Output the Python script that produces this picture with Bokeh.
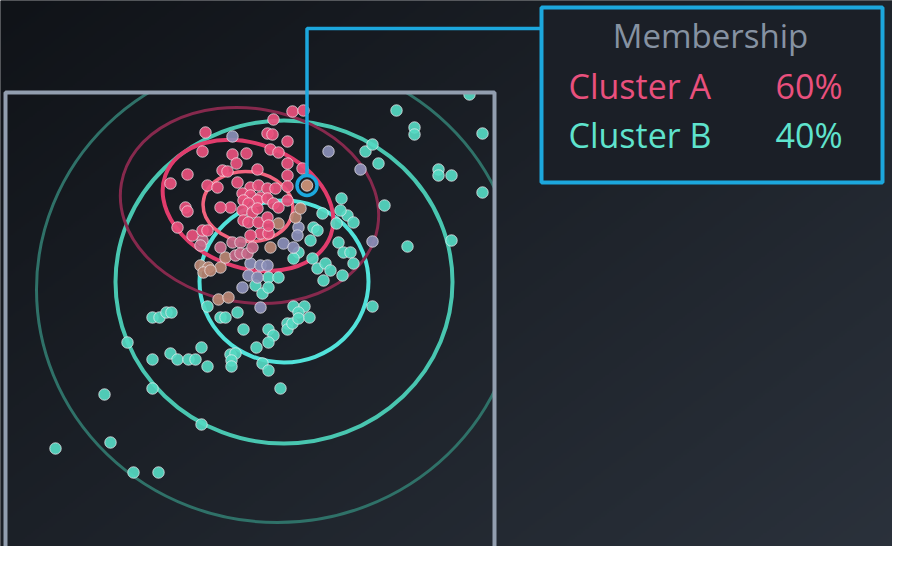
import numpy as np

from bokeh.core.properties import value
from bokeh.embed import file_html
from bokeh.models import Range1d
from bokeh.plotting import figure
from bokeh.resources import INLINE

# feature space: the framed square spans 0..489 on both axes

# cluster A (pink) points
a_x = [287, 298, 268, 200, 262, 267, 282, 197, 265, 273, 227, 241, 282, 231, 217, 222,
       252, 282, 182, 165, 202, 212, 232, 245, 253, 262, 270, 282, 237, 245, 255, 238,
       252, 262, 225, 215, 180, 282, 297, 182, 243, 237, 247, 252, 172, 187, 197, 202,
       238, 243, 268, 273, 255, 263, 245, 253, 262, 263]
a_y = [470, 471, 462, 449, 448, 447, 440, 430, 432, 429, 427, 428, 418, 418, 411, 410,
       412, 406, 407, 398, 396, 394, 399, 394, 396, 393, 393, 395, 388, 386, 384, 381,
       381, 383, 374, 374, 374, 381, 413, 370, 378, 371, 369, 373, 354, 346, 351, 351,
       361, 359, 378, 374, 348, 348, 346, 359, 364, 356]

# points of A near the overlap (muted pink)
am_x = [197, 195, 215, 227, 235, 230, 235, 242, 247]
am_y = [341, 336, 334, 339, 339, 326, 328, 328, 334]

# mixed points, mostly A (warm tint)
ab_x = [273, 290, 295, 213, 223, 215, 195, 203, 198, 205, 265, 220]
ab_y = [358, 364, 373, 282, 284, 314, 316, 314, 309, 311, 334, 324]

# mixed points, mostly B (cool tint)
ba_x = [227, 323, 355, 367, 255, 237, 293, 292, 245, 255, 262, 243, 252, 278, 288]
ba_y = [445, 430, 412, 340, 274, 294, 354, 346, 318, 316, 316, 306, 304, 338, 334]

# cluster B (teal) points
b_x = [391, 409, 409, 477, 464, 360, 367, 373, 433, 433, 446, 477, 336, 379, 342, 348,
       331, 317, 308, 305, 333, 338, 345, 402, 446, 312, 335, 293, 288, 307, 312, 320,
       325, 318, 337, 348, 263, 273, 250, 257, 263, 367, 202, 215, 220, 232, 238, 263,
       268, 263, 282, 282, 287, 288, 299, 293, 293, 304, 251, 257, 263, 225, 230, 226,
       226, 275, 196, 147, 154, 161, 166, 122, 147, 165, 172, 183, 190, 196, 202, 147,
       99, 105, 50, 128, 153]
b_y = [471, 454, 447, 448, 487, 430, 437, 418, 412, 406, 406, 389, 383, 376, 366, 359,
       358, 368, 354, 341, 339, 329, 329, 335, 341, 351, 371, 329, 323, 323, 313, 318,
       311, 301, 306, 318, 304, 304, 296, 288, 294, 275, 275, 264, 264, 269, 252, 252,
       246, 239, 258, 252, 258, 275, 275, 269, 263, 264, 234, 218, 211, 227, 228, 221,
       215, 193, 157, 264, 264, 269, 269, 239, 222, 228, 222, 222, 222, 234, 215, 193,
       187, 139, 133, 109, 109]

# density contours (ellipses) of the two clusters
a_cx = [244, 242.5, 242.5]
a_cy = [376, 376, 375]
a_w = [260, 176, 90]
a_h = [194, 124, 70]
a_angle = [-0.17, -0.35, -0.1]

b_cx = [272, 278.5, 278.5]
b_cy = [292, 299.5, 300]
b_w = [482, 337, 169]
b_h = [466, 323, 162]

# highlighted point and its memberships
hl_x, hl_y = 301.5, 396
clusters = ["Cluster A", "Cluster B"]
shares = [60, 40]

PINK = "#e9507d"
TEAL = "#55d9c2"
BLUE = "#1ca7dd"
FONT = value("Open Sans")

p = figure(width=892, height=546, x_range=Range1d(-5, 887), y_range=Range1d(35, 581),
           x_axis_location=None, y_axis_location=None,
           output_backend="svg", toolbar_location=None, min_border=0)
p.grid.visible = False
p.outline_line_color = None
p.background_fill_color = "#15181e"
p.border_fill_color = "#15181e"

# dark diagonal gradient background
W, H = 454, 281
gx = (np.arange(W) + 0.5) * 908 / W
gy = 562 - (np.arange(H) + 0.5) * 562 / H
X, Y = np.meshgrid(gx, gy)
t = np.clip(0.55 * X / 908 + 0.45 * Y / 562, 0, 1)
c0 = np.array([16, 19, 24])
c1 = np.array([43, 50, 60])
rgb = (c0 + (c1 - c0) * t[..., None]).astype(np.uint8)

bg = np.empty((H, W), dtype=np.uint32)
v = bg.view(dtype=np.uint8).reshape((H, W, 4))
v[..., :3] = rgb
v[..., 3] = 255
mask = bg.copy()
mv = mask.view(dtype=np.uint8).reshape((H, W, 4))
inside = (X > 5) & (X < 494) & (Y > 92)
mv[..., 3] = np.where(inside, 0, 255)

p.image_rgba(image=[bg], x=-5, y=19, dw=908, dh=562)

# contours
p.ellipse(b_cx, b_cy, width=b_w, height=b_h, fill_color=None,
          line_color=["#2f7168", "#49c6b0", "#52e2da"], line_width=[3, 4, 4])
p.ellipse(a_cx, a_cy, width=a_w, height=a_h, angle=a_angle, fill_color=None,
          line_color=["#86294d", "#e03c6c", "#f2637e"], line_width=[3, 4, 3.5])

# points
dot = dict(size=11.5, fill_alpha=0.92, line_color="#f4f0f4", line_alpha=0.7, line_width=1)
p.scatter(b_x, b_y, fill_color=TEAL, **dot)
p.scatter(ba_x, ba_y, fill_color="#8b8fb8", **dot)
p.scatter(ab_x, ab_y, fill_color="#b98673", **dot)
p.scatter(am_x, am_y, fill_color="#c8698a", **dot)
p.scatter(a_x, a_y, fill_color=PINK, **dot)

# clip everything to the frame
p.image_rgba(image=[mask], x=-5, y=19, dw=908, dh=562)

# caption strip at the bottom
p.quad(left=-5, right=599, bottom=0, top=29.5, fill_color="#0f1115", line_color=None)

# frame
p.quad(left=0, right=489, bottom=0, top=489, fill_color=None,
       line_color="#929eaf", line_width=4)

# highlighted point with leader line and callout box
box_l, box_r, box_b, box_t = 536, 877, 399, 574
lead_y = 553
p.line([hl_x, hl_x, box_l], [hl_y + 10, lead_y, lead_y], line_color=BLUE, line_width=3.5)
p.scatter([hl_x], [hl_y], size=11.5, fill_color="#c28b72", line_color="#f4f0f4",
          line_alpha=0.7, line_width=1)
p.scatter([hl_x], [hl_y], size=20, fill_color=None, line_color=BLUE, line_width=3.5)
p.quad(left=box_l, right=box_r, bottom=box_b, top=box_t, fill_color="#1b1f27",
       line_color=BLUE, line_width=4)

p.text(x=[705], y=[546], text=["Membership"], text_font=FONT, text_font_size="33px",
       text_color="#8692a2", text_align="center", text_baseline="alphabetic")
row_y = [496, 447]
colors = [PINK, "#5fe3cd"]
p.text(x=[563, 563], y=row_y, text=clusters, text_font=FONT, text_font_size="34px",
       text_color=colors, text_align="left", text_baseline="alphabetic")
p.text(x=[837, 837], y=row_y, text=[f"{s}%" for s in shares], text_font=FONT,
       text_font_size="34px", text_color=colors, text_align="right",
       text_baseline="alphabetic")

open("out.html", "w").write(file_html(p, INLINE))
